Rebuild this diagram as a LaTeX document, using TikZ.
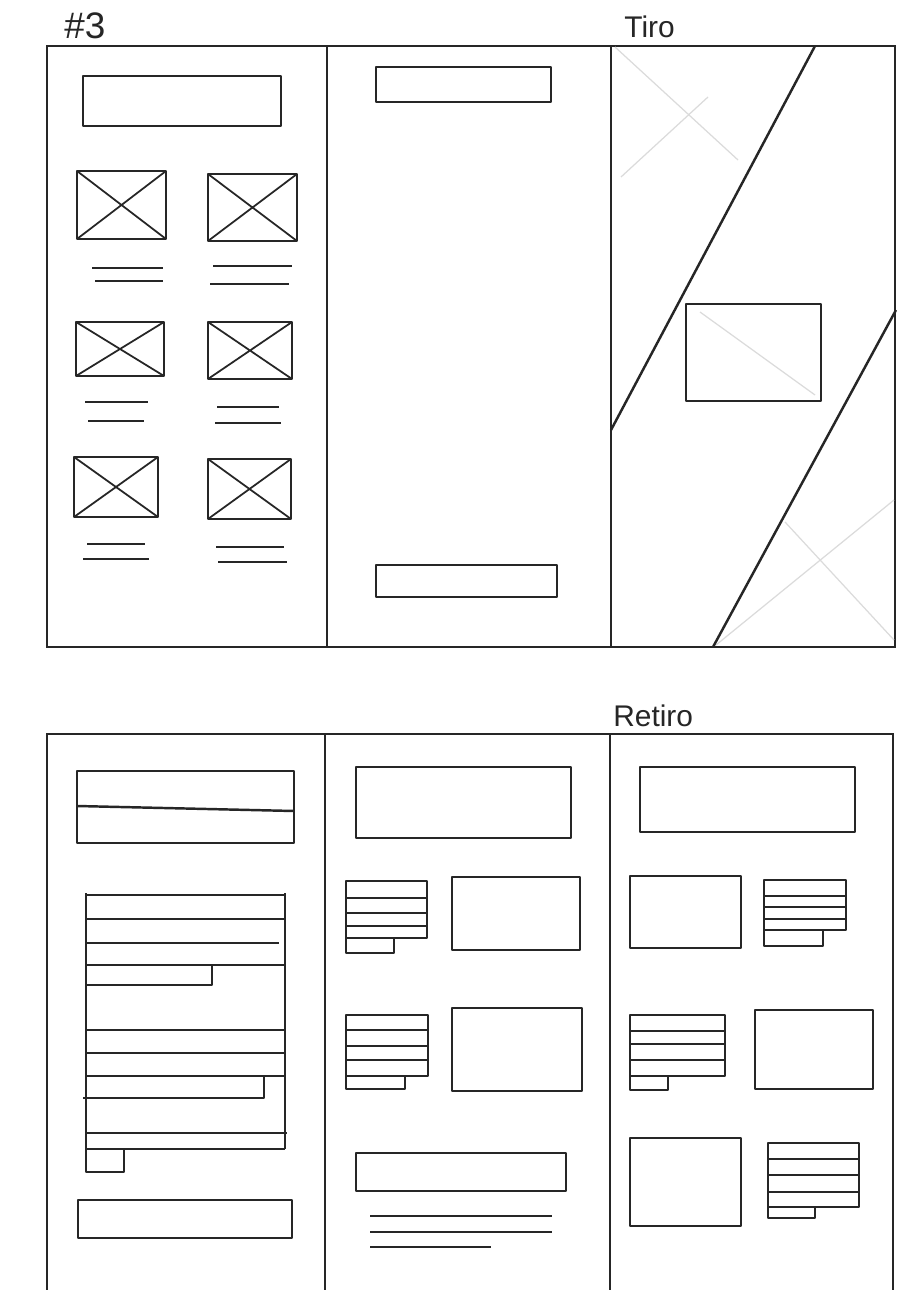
\documentclass[tikz,border=0pt]{standalone}
\usepackage{fontspec}
\setmainfont{Liberation Sans}
\begin{document}
\begin{tikzpicture}[x=0.02cm,y=-0.02cm,
  ink/.style={line width=1.4pt,draw=black!85,line join=round},
  frame/.style={line width=1.5pt,draw=black!85},
  faint/.style={line width=0.7pt,draw=black!14},
  label/.style={font=\fontsize{17}{17}\selectfont,text=black!85,inner sep=0pt,anchor=base west}]
\useasboundingbox (0,0) rectangle (896,1290);
\fill[white] (0,0) rectangle (896,1290);
% ---------- labels ----------
\node[label,font=\fontsize{21}{21}\selectfont] (n3) at (64,39) {\#3};
\node[label] (tiro) at (624,38) {Tiro};
\node[label] (retiro) at (613,726) {Retiro};
% ---------- top sheet ----------
\draw[frame] (896,46) -- (47,46) -- (47,647) -- (896,647);
\draw[frame] (895,46) -- (895,647);
\draw[frame] (327,46) -- (327,647);
\draw[frame] (611,46) -- (611,647);
% left panel
\draw[ink] (83,76) rectangle (281,126);
\foreach \a/\b/\c/\d in {77/171/166/239, 208/174/297/241, 76/322/164/376, 208/322/292/379, 74/457/158/517, 208/459/291/519}{
  \draw[ink] (\a,\b) rectangle (\c,\d);
  \draw[ink,line width=1pt] (\a,\b) -- (\c,\d) (\a,\d) -- (\c,\b);
}
\foreach \a/\b/\y in {92/163/268, 95/163/281, 213/292/266, 210/289/284,
                      85/148/402, 88/144/421, 217/279/407, 215/281/423,
                      87/145/544, 83/149/559, 216/284/547, 218/287/562}{
  \draw[ink] (\a,\y) -- (\b,\y);
}
% middle panel
\draw[ink] (376,67) rectangle (551,102);
\draw[ink] (376,565) rectangle (557,597);
% right panel (Tiro)
\draw[faint] (615,47) -- (738,160);
\draw[faint] (708,97) -- (621,177);
\draw[faint] (700,312) -- (815,395);
\draw[faint] (785,522) -- (894,640);
\draw[faint] (716,645) -- (894,500);
\draw[ink] (815,46) -- (611,430);
\draw[ink] (896,310) -- (713,647);
\draw[ink] (686,304) rectangle (821,401);
% ---------- bottom sheet ----------
\draw[frame] (47,1290) -- (47,734) -- (893,734) -- (893,1290);
\draw[frame] (325,734) -- (325,1290);
\draw[frame] (610,734) -- (610,1290);
% bottom-left panel
\draw[ink] (77,771) rectangle (294,843);
\draw[ink] (77,806) -- (294,811);
\draw[ink] (86,893) -- (86,1172) -- (124,1172) -- (124,1149);
\draw[ink] (285,893) -- (285,1149);
\foreach \a/\b/\y in {86/285/895, 86/285/919, 86/279/943, 86/285/965,
                      86/285/1030, 86/285/1053, 86/285/1076,
                      86/287/1133, 86/285/1149}{
  \draw[ink] (\a,\y) -- (\b,\y);
}
\draw[ink] (212,965) -- (212,985) -- (86,985);
\draw[ink] (264,1076) -- (264,1098) -- (83,1098);
\draw[ink] (78,1200) rectangle (292,1238);
% bottom-middle panel
\draw[ink] (356,767) rectangle (571,838);
\draw[ink] (346,881) rectangle (427,938);
\foreach \y in {898,913,926}{\draw[ink] (346,\y) -- (427,\y);}
\draw[ink] (346,938) -- (346,953) -- (394,953) -- (394,938);
\draw[ink] (452,877) rectangle (580,950);
\draw[ink] (346,1015) rectangle (428,1076);
\foreach \y in {1030,1046,1060}{\draw[ink] (346,\y) -- (428,\y);}
\draw[ink] (346,1076) -- (346,1089) -- (405,1089) -- (405,1076);
\draw[ink] (452,1008) rectangle (582,1091);
\draw[ink] (356,1153) rectangle (566,1191);
\draw[ink] (370,1216) -- (552,1216);
\draw[ink] (370,1232) -- (552,1232);
\draw[ink] (370,1247) -- (491,1247);
% bottom-right panel
\draw[ink] (640,767) rectangle (855,832);
\draw[ink] (630,876) rectangle (741,948);
\draw[ink] (764,880) rectangle (846,930);
\foreach \y in {896,907,919}{\draw[ink] (764,\y) -- (846,\y);}
\draw[ink] (764,930) -- (764,946) -- (823,946) -- (823,930);
\draw[ink] (630,1015) rectangle (725,1076);
\foreach \y in {1031,1044,1060}{\draw[ink] (630,\y) -- (725,\y);}
\draw[ink] (630,1076) -- (630,1090) -- (668,1090) -- (668,1076);
\draw[ink] (755,1010) rectangle (873,1089);
\draw[ink] (630,1138) rectangle (741,1226);
\draw[ink] (768,1143) rectangle (859,1207);
\foreach \y in {1159,1175,1192}{\draw[ink] (768,\y) -- (859,\y);}
\draw[ink] (768,1207) -- (768,1218) -- (815,1218) -- (815,1207);
\end{tikzpicture}
\end{document}
